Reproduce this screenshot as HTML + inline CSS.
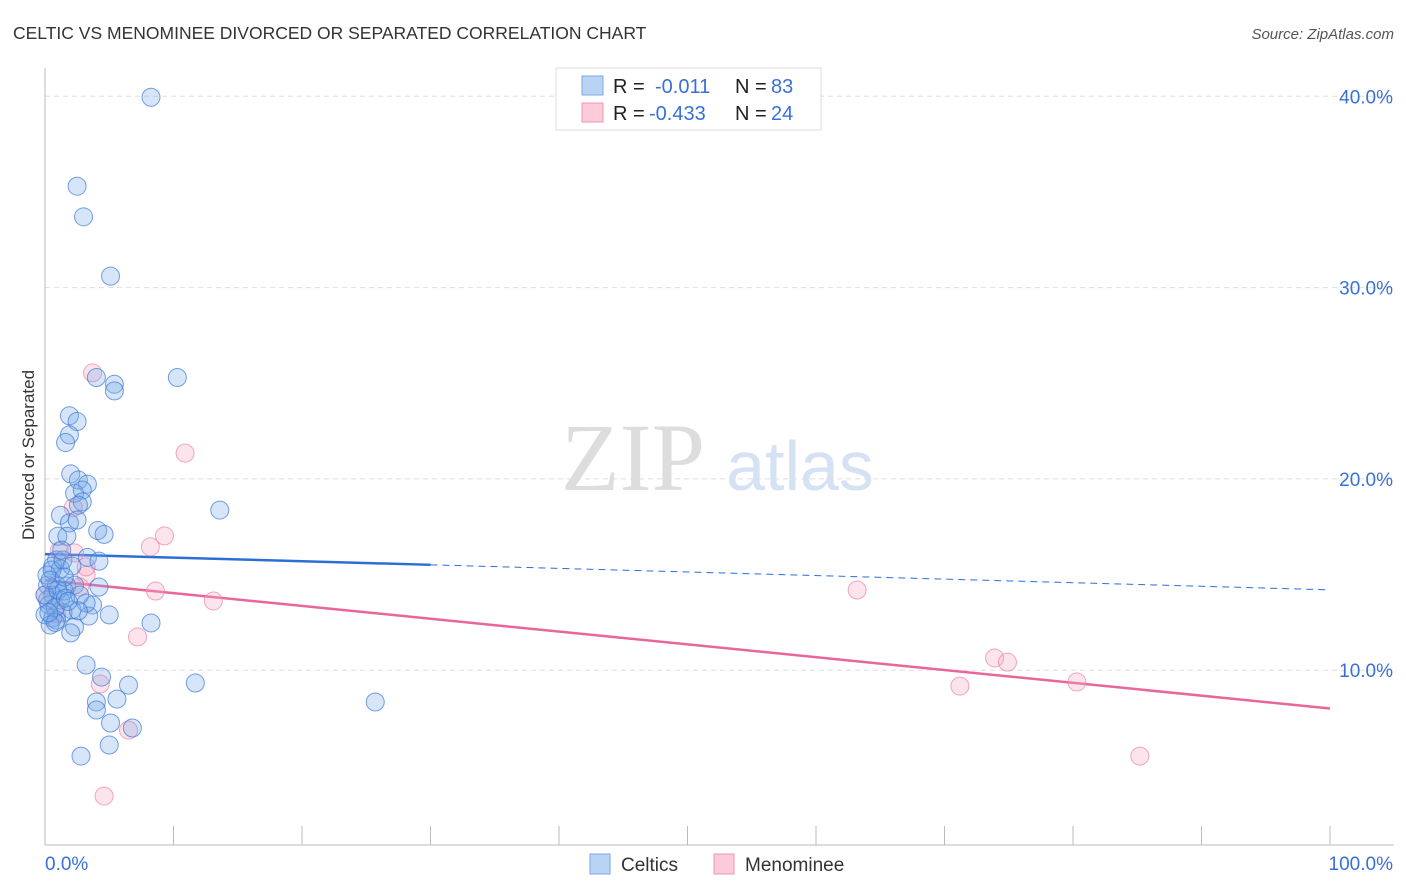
<!DOCTYPE html>
<html><head><meta charset="utf-8"><style>
body{margin:0;background:#fff;font-family:"Liberation Sans",sans-serif;}
svg{display:block}
</style></head><body>
<svg id="chart" width="1406" height="892" xmlns="http://www.w3.org/2000/svg">
<text x="13" y="39" font-size="17.5" fill="#333">CELTIC VS MENOMINEE DIVORCED OR SEPARATED CORRELATION CHART</text>
<text x="1394" y="39" font-size="15" fill="#555" font-style="italic" text-anchor="end">Source: ZipAtlas.com</text>
<text transform="translate(34,455) rotate(-90)" font-size="17" fill="#333" text-anchor="middle">Divorced or Separated</text>
<g>
<text x="633" y="490" font-size="96" fill="#ddd" font-family="Liberation Serif,serif" text-anchor="middle">ZIP</text>
<text x="800" y="490" font-size="70" fill="#d4e2f4" text-anchor="middle">atlas</text>
</g>
<g id="grid"></g><g id="axes"></g><g id="trend"></g><g id="points"></g>
<g>
<rect x="556" y="68" width="265" height="62" fill="#fff" stroke="#ddd"/>
<rect x="582" y="76" width="21" height="19" fill="#b9d3f5" stroke="#7aa7e4"/>
<rect x="582" y="103" width="21" height="19" fill="#fbcbd9" stroke="#f096b2"/>
<text y="93" font-size="20" fill="#222"><tspan x="613">R =</tspan><tspan x="655" fill="#3a6fd8">-0.011</tspan><tspan x="735">N =</tspan><tspan x="771" fill="#3a6fd8">83</tspan></text>
<text y="120" font-size="20" fill="#222"><tspan x="613">R =</tspan><tspan x="649" fill="#3a6fd8">-0.433</tspan><tspan x="735">N =</tspan><tspan x="771" fill="#3a6fd8">24</tspan></text>
</g>
<g>
<rect x="590" y="854" width="20" height="20" fill="#b9d3f5" stroke="#7aa7e4"/>
<text x="621" y="871" font-size="19" fill="#333">Celtics</text>
<rect x="714" y="854" width="20" height="20" fill="#fbcbd9" stroke="#f096b2"/>
<text x="745" y="871" font-size="19" fill="#333">Menominee</text>
</g>
</svg>
<script>
const yTicks=[10,20,30,40];
const yTickLabels=["10.0%","20.0%","30.0%","40.0%"];
const xTickLabels=["0.0%","100.0%"];
const celticsX=[8.25,2.5,3.0,5.1,4.0,10.3,5.4,5.4,1.9,2.5,1.9,1.6,2.0,2.6,3.3,2.3,2.9,2.9,2.6,1.2,1.9,2.5,4.1,4.6,1.0,1.7,0.9,3.3,4.2,0.6,1.2,0.2,0.9,1.7,4.2,0.6,0.2,1.2,0.3,3.7,2.1,1.4,3.4,5.0,0.6,0.9,2.3,8.25,2.0,13.6,3.2,4.4,6.5,11.7,5.6,4.0,4.0,5.1,6.8,5.0,2.8,25.7,1.5,2.3,0.0,0.15,0.55,1.4,0.8,0.0,1.0,1.6,0.4,2.7,3.2,1.3,2.1,0.4,1.5,2.6,0.8,1.8,0.3];
const celticsY=[39.95,35.3,33.7,30.6,25.3,25.3,24.95,24.6,23.3,23.0,22.3,21.9,20.26,19.94,19.73,19.25,19.42,18.8,18.63,18.1,17.7,17.85,17.3,17.1,17.0,17.0,15.76,15.9,15.7,15.45,15.29,14.45,14.45,14.4,14.35,13.93,13.67,13.67,13.41,13.41,13.15,13.0,12.83,12.89,12.73,12.62,12.26,12.47,11.95,18.37,10.27,9.64,9.22,9.33,8.49,8.34,7.92,7.24,6.98,6.09,5.51,8.34,14.14,14.45,13.93,14.97,15.24,15.76,13.28,12.9,14.19,13.77,12.36,13.93,13.51,16.28,15.45,14.71,14.87,13.1,12.5,13.6,13.0];
const menomineeX=[3.7,10.9,9.3,8.2,8.6,13.1,7.2,4.3,6.5,4.6,2.2,2.3,1.1,3.2,2.7,63.2,73.9,74.9,71.2,80.3,85.2,3.2,0.0,0.9];
const menomineeY=[25.54,21.35,17.02,16.45,14.14,13.62,11.74,9.28,6.87,3.42,18.5,16.13,16.23,14.97,14.35,14.19,10.64,10.42,9.17,9.38,5.51,15.4,13.93,12.94];
const celticsTrend=[16.07,14.2];
const menomineeTrend=[14.7,8.0];
const NS="http://www.w3.org/2000/svg";
const X=v=>45+v*12.85, Y=v=>861.5-v*19.13;
function mk(t,a,p){const e=document.createElementNS(NS,t);for(const k in a)e.setAttribute(k,a[k]);p.appendChild(e);return e;}
const grid=document.getElementById('grid'),axes=document.getElementById('axes');
yTicks.forEach((t,i)=>{
 const l=mk('line',{x1:45,x2:1394,y1:Y(t),y2:Y(t),stroke:'#ddd','stroke-dasharray':'5,4'},grid);
 
 
 const tx=mk('text',{x:1393,y:Y(t)+7,'font-size':19,fill:'#3a6fd8','text-anchor':'end'},grid);
 tx.textContent=yTickLabels[i];
 
 
});
const ax=mk('path',{d:'M45 68V845H1394',stroke:'#bbb',fill:'none'},axes);


for(let i=1;i<=10;i++){const t=mk('line',{x1:X(i*10),x2:X(i*10),y1:826,y2:845,stroke:'#bbb'},axes);
 
 }
[[0,'start',45],[1,'end',1393]].forEach(([i,a,x])=>{const t=mk('text',{x:x,y:870,'font-size':19,fill:'#3a6fd8','text-anchor':a},axes);t.textContent=xTickLabels[i];
 
 });
const tr=document.getElementById('trend');
const by=x=>celticsTrend[0]+(celticsTrend[1]-celticsTrend[0])*x/100;
let l1=mk('line',{x1:X(0),y1:Y(by(0)),x2:X(30),y2:Y(by(30)),stroke:'#2a6fd6','stroke-width':2.5},tr);


let l2=mk('line',{x1:X(30),y1:Y(by(30)),x2:X(100),y2:Y(by(100)),stroke:'#2a6fd6','stroke-width':1,'stroke-dasharray':'7,5'},tr);


let l3=mk('line',{x1:X(0),y1:Y(menomineeTrend[0]),x2:X(100),y2:Y(menomineeTrend[1]),stroke:'#e8679a','stroke-width':2.5},tr);


const pts=document.getElementById('points');
menomineeX.forEach((x,i)=>{const c=mk('circle',{cx:X(x),cy:Y(menomineeY[i]),r:9,fill:'rgba(246,165,192,0.3)',stroke:'rgba(236,130,165,0.7)'},pts);
 
 });
celticsX.forEach((x,i)=>{const c=mk('circle',{cx:X(x),cy:Y(celticsY[i]),r:9,fill:'rgba(120,168,232,0.3)',stroke:'rgba(60,120,215,0.7)'},pts);
 
 });
</script>
</body></html>
